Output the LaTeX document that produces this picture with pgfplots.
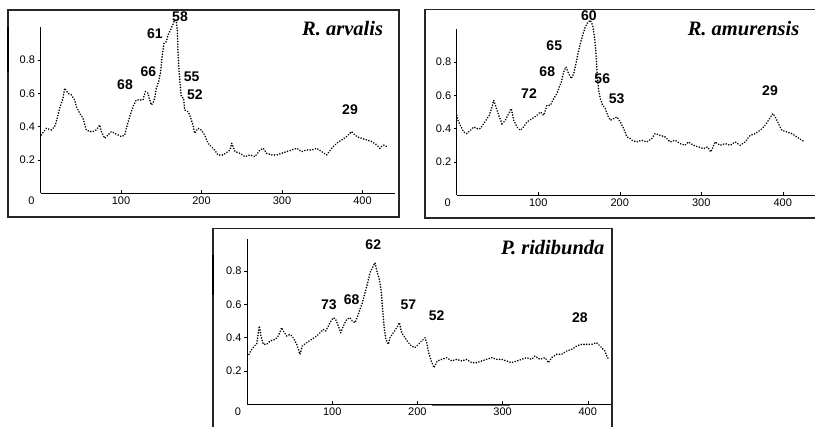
\documentclass[border=0pt]{standalone}
\usepackage{pgfplots}
\pgfplotsset{compat=1.18}
\usepackage{fontspec}
\setmainfont{Liberation Sans}
\newfontfamily\titlefont{Liberation Serif}

\pgfplotsset{
  panel/.style={
    axis x line=bottom, axis y line=left,
    axis line style={-, line width=1pt},
    anchor=south west, clip=false,
    ymin=0, ymax=1, xmin=0,
    enlargelimits=false,
    xtick={100,200,300,400},
    ytick={0.2,0.4,0.6,0.8},
    yticklabels={0.2,0.4,0.6,0.8},
    xtick align=inside, ytick align=outside,
    major tick length=3pt,
    tick style={black, line width=0.6pt},
    tick label style={font=\fontsize{11}{12}\selectfont},
    yticklabel style={xshift=1pt},
    /pgf/number format/assume math mode=true,
    extra x ticks={0}, extra x tick labels={0},
    extra x tick style={major tick length=0pt, xticklabel style={xshift=-9pt}},
  },
}
\tikzset{
  trace/.style={black, line width=1.8pt, dash pattern=on 0.01pt off 2.7pt, line cap=round},
  num/.style={font=\fontsize{14}{14}\selectfont\bfseries},
  ttl/.style={font=\titlefont\fontsize{20.5}{20.5}\selectfont\bfseries\itshape, anchor=east},
}

\begin{document}
\begin{tikzpicture}[x=1pt, y=1pt]
\useasboundingbox (0,0) rectangle (815,427);

% panel frames
\draw[black!85, line width=1.2pt] (8,210) rectangle (399,417);
\draw[black!85, line width=1.2pt] (425,209) rectangle (830,417.7);
\draw[black!85, line width=1.2pt] (213,-10) rectangle (612,198.7);
\draw[line width=2.4pt] (8,400) -- (8,355);
\draw[line width=2.4pt] (213,172) -- (213,132);
\draw[black!60, line width=1.6pt] (432,21.5) -- (510,21.5);

% R. arvalis
\begin{axis}[panel, at={(40.5pt,233.7pt)}, x=0.805pt, y=166.7pt, xmax=440]
\addplot[trace] coordinates {
(1.0,0.35) (7.2,0.39) (13.5,0.38) (17.6,0.40) (19.7,0.43) (23.8,0.51) (27.9,0.57)
(30.0,0.63) (34.2,0.60) (38.3,0.59) (42.4,0.56) (44.5,0.52) (48.7,0.48) (52.8,0.45)
(56.9,0.38) (61.1,0.37) (65.2,0.37) (69.3,0.38) (73.5,0.41) (75.6,0.37) (79.7,0.33)
(83.9,0.35) (88.0,0.37) (92.1,0.36) (96.3,0.35) (100.4,0.34) (104.6,0.35) (106.6,0.39)
(110.8,0.46) (114.9,0.52) (119.0,0.56) (123.2,0.56) (127.3,0.56) (130.2,0.61) (133.5,0.60)
(135.6,0.56) (137.7,0.53) (139.8,0.54) (141.8,0.57) (143.9,0.63) (146.8,0.67) (149.3,0.73)
(151.0,0.82) (153.4,0.90) (156.3,0.91) (158.4,0.95) (162.5,0.99) (166.6,1.04) (168.7,1.03)
(170.0,0.98) (170.8,0.85) (172.0,0.74) (173.7,0.64) (174.9,0.58) (177.8,0.57) (179.0,0.50)
(183.2,0.49) (185.3,0.47) (189.4,0.41) (191.5,0.36) (195.7,0.39) (199.8,0.38) (203.9,0.35)
(208.1,0.30) (212.2,0.28) (216.3,0.26) (220.5,0.23) (227.1,0.23) (235.4,0.26) (237.5,0.30)
(241.6,0.25) (247.8,0.24) (254.0,0.22) (260.2,0.23) (266.4,0.22) (272.7,0.26) (276.8,0.27)
(280.9,0.24) (287.2,0.23) (293.4,0.23) (299.6,0.24) (305.8,0.25) (312.0,0.26) (318.2,0.27)
(324.4,0.25) (330.6,0.26) (336.9,0.26) (343.1,0.27) (349.3,0.25) (355.5,0.23) (361.7,0.27)
(367.9,0.30) (374.1,0.32) (380.3,0.34) (386.5,0.37) (392.8,0.34) (399.0,0.33) (405.2,0.32)
(411.4,0.31) (417.6,0.29) (421.7,0.27) (425.9,0.29) (430.0,0.28)
};
\node[num] at (axis cs:105,0.65) {68};
\node[num] at (axis cs:133.9,0.73) {66};
\node[num] at (axis cs:142.2,0.96) {61};
\node[num] at (axis cs:173.3,1.06) {58};
\node[num] at (axis cs:187.8,0.70) {55};
\node[num] at (axis cs:191.9,0.59) {52};
\node[num] at (axis cs:384.5,0.50) {29};
\node[ttl] at (axis cs:430,0.99) {R. arvalis};
\end{axis}

% R. amurensis
\begin{axis}[panel, at={(456.8pt,231.7pt)}, x=0.815pt, y=166.7pt, xmax=440]
\addplot[trace] coordinates {
(0,0.48) (1.5,0.45) (4.3,0.42) (8.4,0.38) (12.5,0.37) (16.6,0.39) (20.7,0.41)
(24.8,0.40) (28.9,0.40) (33.0,0.43) (37.1,0.46) (39.9,0.48) (43.2,0.53) (45.2,0.57)
(48.1,0.53) (51.4,0.48) (55.5,0.43) (59.5,0.45) (63.6,0.49) (66.9,0.52) (69.8,0.45)
(73.9,0.41) (78.0,0.39) (82.0,0.41) (86.1,0.44) (92.3,0.46) (98.4,0.48) (102.5,0.50)
(106.6,0.48) (110.7,0.54) (114.8,0.54) (118.8,0.58) (122.9,0.61) (125.8,0.65) (128.3,0.68)
(131.1,0.74) (134.0,0.77) (137.3,0.73) (140.5,0.70) (143.4,0.73) (146.2,0.79) (148.7,0.85)
(151.6,0.91) (154.4,0.96) (157.7,1.01) (161.0,1.04) (163.8,1.05) (166.7,1.02) (169.2,0.94)
(170.8,0.85) (172.4,0.71) (174.1,0.63) (176.1,0.58) (179.0,0.54) (182.2,0.52) (185.1,0.48)
(188.4,0.45) (192.5,0.46) (196.6,0.47) (200.6,0.44) (204.7,0.40) (208.8,0.35) (212.9,0.34)
(215.0,0.33) (220.7,0.32) (226.9,0.33) (233.0,0.32) (239.2,0.34) (243.3,0.37) (249.4,0.36)
(255.6,0.35) (261.7,0.32) (267.9,0.33) (274.0,0.31) (280.1,0.30) (284.2,0.32) (290.4,0.30)
(296.5,0.29) (302.7,0.28) (307.6,0.29) (311.7,0.26) (317.0,0.32) (323.1,0.30) (329.3,0.31)
(335.4,0.30) (341.5,0.32) (347.7,0.30) (353.8,0.32) (360.0,0.36) (366.1,0.37) (372.2,0.39)
(378.4,0.42) (383.7,0.46) (387.8,0.49) (390.6,0.47) (394.7,0.43) (398.8,0.39) (404.9,0.38)
(411.1,0.37) (417.2,0.35) (423.3,0.33) (427.4,0.32)
};
\node[num] at (axis cs:162.2,1.08) {60};
\node[num] at (axis cs:119.6,0.90) {65};
\node[num] at (axis cs:111.0,0.74) {68};
\node[num] at (axis cs:88.6,0.61) {72};
\node[num] at (axis cs:178.5,0.70) {56};
\node[num] at (axis cs:196.2,0.58) {53};
\node[num] at (axis cs:384.3,0.63) {29};
\node[ttl] at (axis cs:424.7,1.0) {R. amurensis};
\end{axis}

% P. ridibunda
\begin{axis}[panel, at={(247pt,22.7pt)}, x=0.852pt, y=166.5pt, xmax=427, ymax=0.99]
\addplot[trace] coordinates {
(2.3,0.30) (5.5,0.33) (8.6,0.35) (11.3,0.36) (13.3,0.43) (14.5,0.47) (16.4,0.41)
(19.2,0.36) (23.1,0.36) (27.0,0.38) (32.9,0.39) (36.8,0.41) (40.7,0.46) (43.8,0.43)
(46.6,0.41) (50.5,0.42) (54.4,0.40) (58.3,0.36) (62.2,0.30) (64.9,0.35) (70.0,0.37)
(75.9,0.39) (81.8,0.41) (85.7,0.43) (89.6,0.45) (92.3,0.44) (95.5,0.47) (98.6,0.50)
(101.3,0.52) (104.1,0.51) (107.2,0.47) (110.0,0.43) (113.1,0.47) (117.0,0.51) (120.9,0.52)
(123.6,0.50) (126.8,0.49) (129.9,0.53) (132.6,0.57) (135.4,0.61) (138.5,0.67) (141.6,0.73)
(144.4,0.79) (147.1,0.82) (150.2,0.85) (153.0,0.79) (155.3,0.75) (157.3,0.69) (159.2,0.57)
(161.2,0.45) (163.1,0.39) (165.9,0.36) (167.8,0.40) (171.7,0.43) (175.7,0.46) (178.8,0.49)
(181.6,0.43) (185.4,0.40) (189.4,0.37) (193.3,0.35) (197.2,0.34) (201.1,0.36) (205.0,0.38)
(208.9,0.40) (210.9,0.37) (212.8,0.32) (215.6,0.27) (219.5,0.22) (223.4,0.26) (228.5,0.27)
(234.4,0.28) (240.3,0.26) (246.1,0.27) (252.0,0.26) (257.9,0.27) (263.7,0.25) (269.6,0.25)
(275.4,0.26) (281.3,0.27) (287.2,0.28) (293.0,0.27) (298.9,0.27) (304.8,0.26) (310.6,0.25)
(316.5,0.26) (322.4,0.27) (328.2,0.28) (334.1,0.27) (338.0,0.29) (343.9,0.27) (349.8,0.28)
(353.7,0.25) (357.6,0.28) (363.5,0.30) (369.3,0.30) (375.2,0.32) (381.1,0.33) (386.9,0.35)
(392.8,0.36) (398.6,0.36) (404.5,0.36) (410.4,0.37) (416.2,0.34) (420.2,0.32) (422.9,0.28)
(426.0,0.27)
};
\node[num] at (axis cs:148.2,0.96) {62};
\node[num] at (axis cs:96.2,0.60) {73};
\node[num] at (axis cs:122.9,0.63) {68};
\node[num] at (axis cs:189.3,0.60) {57};
\node[num] at (axis cs:222.7,0.53) {52};
\node[num] at (axis cs:390.8,0.52) {28};
\node[ttl] at (axis cs:423.7,0.94) {P. ridibunda};
\end{axis}
\end{tikzpicture}
\end{document}
